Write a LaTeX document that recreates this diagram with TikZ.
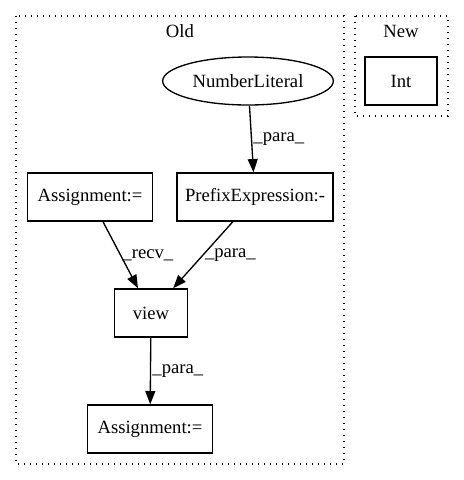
\documentclass[tikz,border=0pt]{standalone}
\usepackage{fontspec}
\setmainfont{Liberation Serif}
\usetikzlibrary{positioning,arrows.meta,shapes.geometric}

\begin{document}
\begin{tikzpicture}[x=0.75pt,y=-0.75pt,
        font=\fontsize{14pt}{16pt}\selectfont,
        box/.style={draw, rectangle, line width=1pt, minimum height=36pt, inner sep=0pt},
        oval/.style={draw, ellipse, line width=1pt, minimum width=128pt, minimum height=36pt, inner sep=0pt},
        cluster/.style={draw, line width=1.1pt, dash pattern=on 1.1pt off 3.4pt},
        edge/.style={line width=1pt, -{Triangle[length=10pt,width=7.5pt]}},
        lbl/.style={right, inner sep=1pt}]
    \useasboundingbox (0,0) rectangle (464,480);
    \draw[cluster] (16,16) rectangle (344,464);
    \draw[cluster] (355,16) rectangle (448,116);
    \node (oldlabel) at (180,31) {Old};
    \node (newlabel) at (401,31) {New};
    \node[oval] (numlit) at (248,81) {NumberLiteral};
    \node[box, minimum width=94pt] (assigntop) at (90,197) {Assignment:=};
    \node[box, minimum width=117pt] (prefix) at (255,197) {PrefixExpression:-};
    \node[box, minimum width=55pt] (view) at (151,313) {view};
    \node[box, minimum width=94pt] (assignbot) at (150,429) {Assignment:=};
    \node[box, minimum width=54pt] (int) at (401,81) {Int};
    \draw[edge] (numlit) -- (prefix) node[lbl, midway] {\_para\_};
    \draw[edge] (assigntop) -- (view) node[lbl, midway] {\_recv\_};
    \draw[edge] (prefix) -- (view) node[lbl, midway] {\_para\_};
    \draw[edge] (view) -- (assignbot) node[lbl, midway] {\_para\_};
\end{tikzpicture}
\end{document}
